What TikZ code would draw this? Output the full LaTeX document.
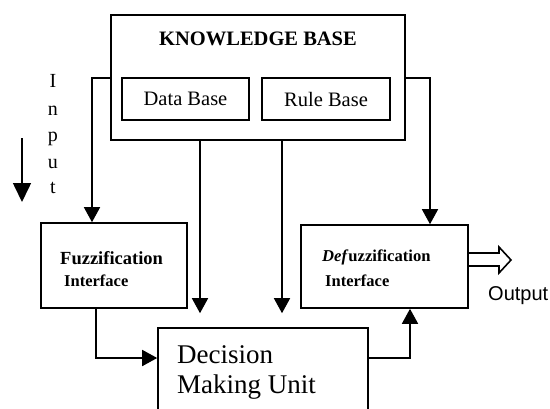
\documentclass[tikz,border=0pt]{standalone}
\usepackage{fontspec}
\setmainfont{Liberation Serif}
\newfontfamily\outfont{Liberation Sans}
\usetikzlibrary{arrows.meta,calc}
\begin{document}
\begin{tikzpicture}[x=1pt,y=-1pt,
  box/.style={draw, line width=1.6pt, inner sep=0pt},
  conn/.style={line width=1.6pt},
  arr/.style={conn, -{Triangle[width=16pt,length=15pt]}},
  txt/.style={inner sep=0pt, anchor=base west}]
\useasboundingbox (0,0) rectangle (550,408);
\clip (0,0) rectangle (550,408);
% boxes
\node[box, minimum width=294pt, minimum height=125pt] (kb) at (258,77.5) {};
\node[txt, anchor=base] (kbt) at (258,45) {\fontsize{20.5}{24}\selectfont\bfseries KNOWLEDGE BASE};
\node[box, minimum width=127pt, minimum height=42pt] (db) at (185.5,99) {\fontsize{20.5}{24}\selectfont Data Base};
\node[box, minimum width=128pt, minimum height=42pt] (rb) at (326,99) {\fontsize{20.5}{24}\selectfont Rule Base};
\node[box, minimum width=146pt, minimum height=85pt] (fz) at (114,265.5) {};
\node[txt] (fzt1) at (60,264) {\fontsize{18.5}{22}\selectfont\bfseries Fuzzification};
\node[txt] (fzt2) at (64,286) {\fontsize{16.5}{20}\selectfont\bfseries Interface};
\node[box, minimum width=167pt, minimum height=83pt] (dz) at (384.5,266.5) {};
\node[txt] (dzt1) at (322,261) {\fontsize{16.6}{20}\selectfont\bfseries\textit{Def}uzzification};
\node[txt] (dzt2) at (325,286) {\fontsize{16.5}{20}\selectfont\bfseries Interface};
\node[box, minimum width=210pt, minimum height=102pt] (dmu) at (263,379) {};
\node[txt] (dmu1) at (177,363) {\fontsize{27}{30}\selectfont Decision};
\node[txt] (dmu2) at (177,393) {\fontsize{27}{30}\selectfont Making Unit};
% input label
\node[txt, anchor=base] (i1) at (53,87) {\fontsize{20}{24}\selectfont I};
\node[txt, anchor=base] (i2) at (53,115) {\fontsize{20}{24}\selectfont n};
\node[txt, anchor=base] (i3) at (53,141) {\fontsize{20}{24}\selectfont p};
\node[txt, anchor=base] (i4) at (53,168) {\fontsize{20}{24}\selectfont u};
\node[txt, anchor=base] (i5) at (53,193) {\fontsize{20}{24}\selectfont t};
\coordinate (ia) at (22,138);
\coordinate (ib) at (22,202);
\draw[conn, -{Triangle[width=18pt,length=19pt]}] (ia) -- (ib);
% output
\node[txt] (out) at (488,300) {\outfont\fontsize{20}{24}\selectfont Output};
\coordinate (o1) at (0,253);
\coordinate (o2) at (0,266);
\draw[conn, line join=miter] (dz.east |- o1) -- (499,253) -- (499,247) -- (511,260) -- (499,273) -- (499,266) -- (dz.east |- o2);
% connectors
\coordinate (lc) at (92,78);
\draw[arr] (kb.west |- lc) -- (lc) -- (fz.north -| lc);
\coordinate (rc) at (430,78);
\draw[arr] (kb.east |- rc) -- (rc) -- (dz.north -| rc);
\coordinate (m1) at (200,0);
\coordinate (m2) at (282,0);
\draw[arr, shorten >=14pt] (kb.south -| m1) -- (dmu.north -| m1);
\draw[arr, shorten >=14pt] (kb.south -| m2) -- (dmu.north -| m2);
\coordinate (fd) at (96,358);
\draw[arr] (fz.south -| fd) -- (fd) -- (dmu.west |- fd);
\coordinate (dd) at (410,358);
\draw[arr] (dmu.east |- dd) -- (dd) -- (dz.south -| dd);
\end{tikzpicture}
\end{document}
